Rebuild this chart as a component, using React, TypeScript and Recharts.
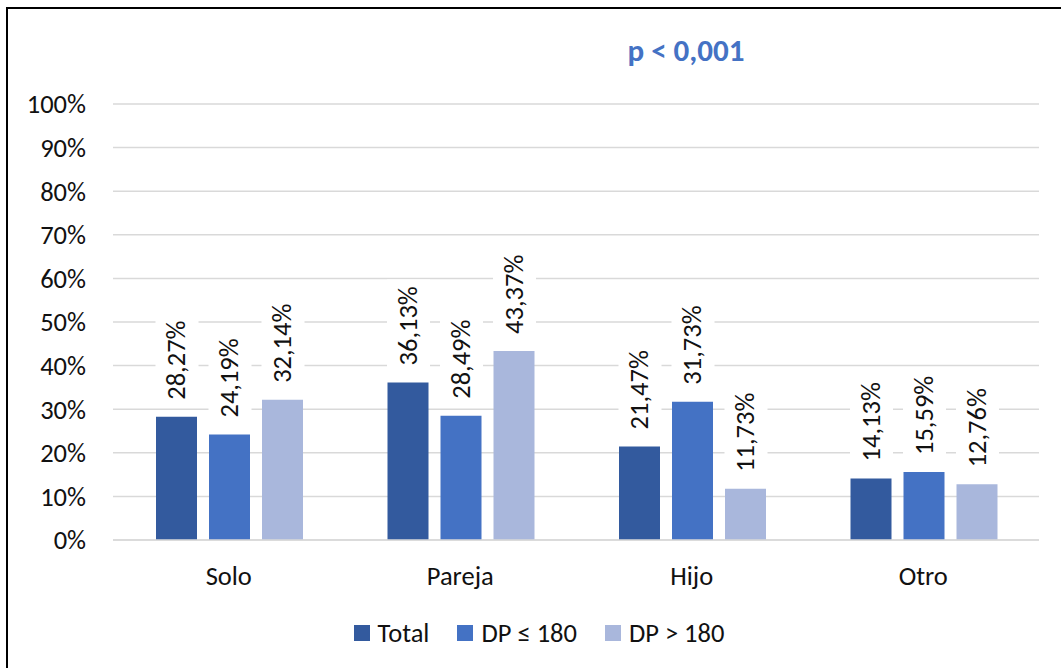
import React from 'react';
import { BarChart, Bar, XAxis, YAxis, CartesianGrid, Legend } from 'recharts';

const categories = ['Solo', 'Pareja', 'Hijo', 'Otro'];
const totalValues = [28.27, 36.13, 21.47, 14.13];
const dpLowValues = [24.19, 28.49, 31.73, 15.59];
const dpHighValues = [32.14, 43.37, 11.73, 12.76];
const yTicks = [0, 10, 20, 30, 40, 50, 60, 70, 80, 90, 100];

const seriesInfo = [
  { key: 'total', name: 'Total', color: '#335a9e' },
  { key: 'dpLow', name: 'DP ≤ 180', color: '#4472c4' },
  { key: 'dpHigh', name: 'DP > 180', color: '#a9b7dc' },
];

const data = categories.map((c, i) => ({
  name: c,
  total: totalValues[i],
  dpLow: dpLowValues[i],
  dpHigh: dpHighValues[i],
}));

const FONT = 'Carlito, Calibri, Lato, sans-serif';
const FS = 26.5;

const fmt = (v: number) => v.toFixed(2).replace('.', ',') + '%';

// rotated label with white box behind it (like excel)
const RotatedLabel = (props: any) => {
  const { x, y, width, value } = props;
  const cx = x + width / 2;
  const start = y - 17;
  const len = 82;
  return (
    <g>
      <rect x={cx - 21} y={start - len - 4} width={43} height={len + 10} fill="#fff" />
      <text
        x={cx}
        y={start}
        transform={`rotate(-90, ${cx}, ${start})`}
        textAnchor="start"
        dominantBaseline="central"
        fontFamily={FONT}
        fontSize={FS}
        fill="#111"
      >
        {fmt(value)}
      </text>
    </g>
  );
};

const LegendContent = () => (
  <div style={{ display: 'flex', justifyContent: 'center', alignItems: 'center', height: 30, paddingLeft: 6, fontFamily: FONT, fontSize: FS, color: '#111' }}>
    {seriesInfo.map((s, i) => (
      <div key={s.key} style={{ display: 'flex', alignItems: 'center', marginRight: i < seriesInfo.length - 1 ? 28 : 0 }}>
        <span style={{ display: 'inline-block', width: 16, height: 16, background: s.color, marginRight: 8 }} />
        <span>{s.name}</span>
      </div>
    ))}
  </div>
);

export default function App() {
  return (
    <div style={{ position: 'absolute', left: 0, top: 0, width: 1061, height: 668, overflow: 'hidden', background: '#fff' }}>
      <div style={{ position: 'absolute', left: 6, top: 7, width: 1100, height: 700, border: '2px solid #000' }} />
      <div style={{ position: 'absolute', left: 586, top: 31, width: 200, textAlign: 'center', fontFamily: FONT, fontWeight: 700, fontSize: 31, color: '#4472c4' }}>
        p &lt; 0,001
      </div>
      <div style={{ position: 'absolute', left: 0, top: 0 }}>
        <BarChart
          width={1061}
          height={668}
          data={data}
          margin={{ top: 104, right: 22, left: 33, bottom: 38 }}
          barGap={12}
          barCategoryGap={43}
        >
          <CartesianGrid vertical={false} stroke="#d9d9d9" strokeWidth={1.5} />
          <XAxis
            dataKey="name"
            height={60}
            tickLine={false}
            tickSize={0}
            tickMargin={26}
            axisLine={{ stroke: '#d9d9d9', strokeWidth: 1.5 }}
            tick={{ fontFamily: FONT, fontSize: FS, fill: '#111' }}
          />
          <YAxis
            width={80}
            domain={[0, 100]}
            ticks={yTicks}
            interval={0}
            axisLine={false}
            tickLine={false}
            tickSize={0}
            tickMargin={27}
            tickFormatter={(v) => `${v}%`}
            tick={{ fontFamily: FONT, fontSize: FS, fill: '#111' }}
          />
          <Legend verticalAlign="bottom" wrapperStyle={{ bottom: 20 }} content={<LegendContent />} />
          {seriesInfo.map((s) => (
            <Bar
              key={s.key}
              dataKey={s.key}
              name={s.name}
              fill={s.color}
              isAnimationActive={false}
              label={<RotatedLabel />}
            />
          ))}
        </BarChart>
      </div>
    </div>
  );
}
